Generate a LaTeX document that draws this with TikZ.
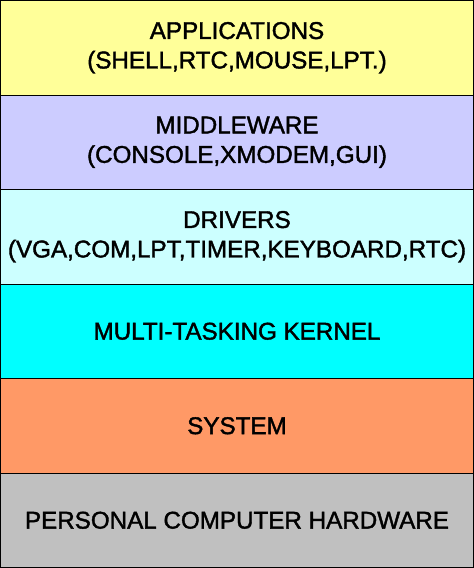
\documentclass[tikz,border=0pt]{standalone}
\usepackage{fontspec}
\setmainfont{Liberation Sans}[FakeBold=1.6,AutoFakeBold=1.6]
\usepackage{xcolor}
\usetikzlibrary{positioning}
\definecolor{appyellow}{HTML}{FFFF99}
\definecolor{midlavender}{HTML}{CCCCFF}
\definecolor{drvcyan}{HTML}{CCFFFF}
\definecolor{kerncyan}{HTML}{00FFFF}
\definecolor{sysorange}{HTML}{FF9966}
\definecolor{hwgray}{HTML}{C0C0C0}

\begin{document}
\begin{tikzpicture}[
    layer/.style={draw, line width=1pt, outer sep=0pt, minimum width=473pt, minimum height=94.5pt,
      align=center, inner sep=0pt, font=\fontsize{24.2}{29.5}\selectfont\bfseries},
    node distance=0pt,
  ]
  \useasboundingbox (-237pt,47.75pt) rectangle (237pt,-520.25pt);

  % Applications
  \node[layer, fill=appyellow] (apps) {APPLICATIONS\\(SHELL,RTC,MOUSE,LPT.)};

  % Middleware
  \node[layer, fill=midlavender, below=of apps] (middle) {MIDDLEWARE\\(CONSOLE,XMODEM,GUI)};

  % Drivers
  \node[layer, fill=drvcyan, below=of middle] (drivers) {DRIVERS\\(VGA,COM,LPT,TIMER,KEYBOARD,RTC)};

  % Kernel
  \node[layer, fill=kerncyan, below=of drivers] (kernel) {MULTI-TASKING KERNEL};

  % System
  \node[layer, fill=sysorange, below=of kernel] (system) {SYSTEM};

  % Hardware
  \node[layer, fill=hwgray, below=of system] (hardware) {PERSONAL COMPUTER HARDWARE};
\end{tikzpicture}
\end{document}
